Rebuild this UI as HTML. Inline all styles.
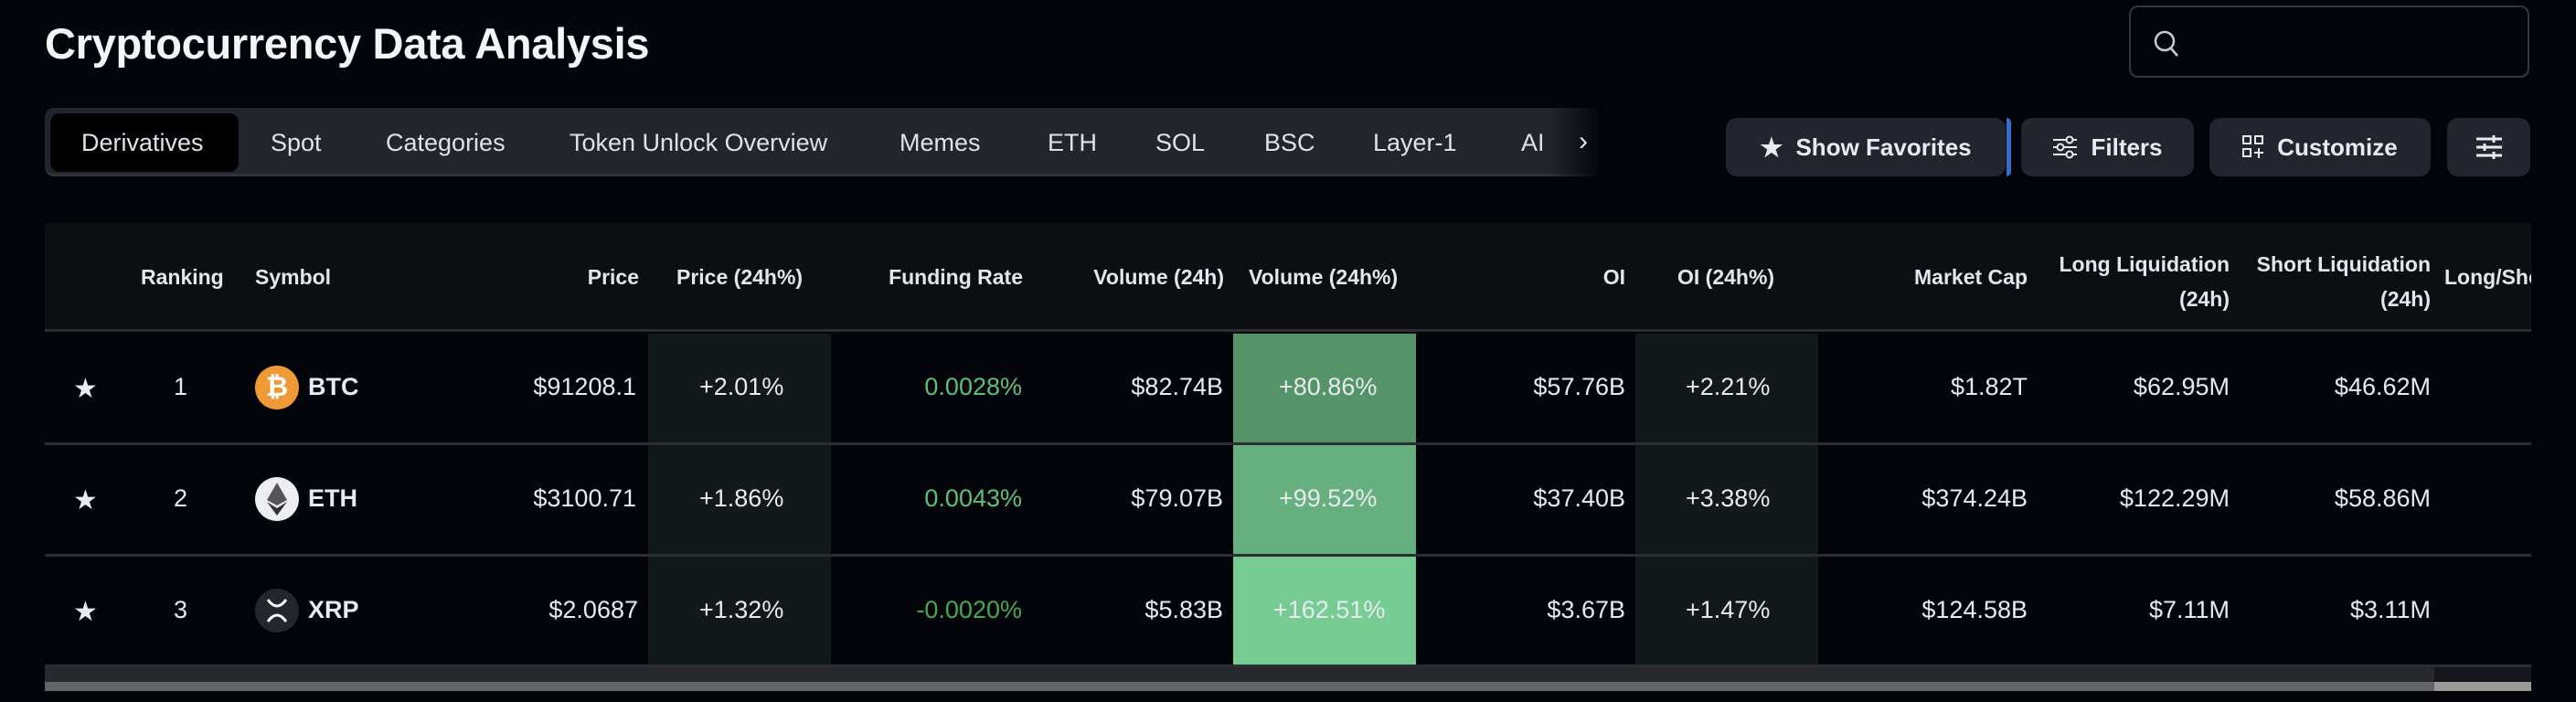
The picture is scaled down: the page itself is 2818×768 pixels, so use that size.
<!DOCTYPE html>
<html><head><meta charset="utf-8"><style>
*{margin:0;padding:0;box-sizing:border-box}
body{width:2818px;height:768px;background:#03040a;overflow:hidden;position:relative;font-family:"Liberation Sans",sans-serif;color:#e8eaef}
.a{position:absolute;white-space:nowrap}
.title{left:49px;top:20px;font-size:47px;font-weight:bold;color:#f4f5f8;letter-spacing:-0.3px}
.search{left:2329px;top:6px;width:438px;height:79px;border:2px solid #34373e;border-radius:10px}
.tabbar{left:49px;top:118px;width:1699px;height:75px;background:#22252c;border-radius:10px 0 0 10px;border-bottom:3px solid #30333a}
.tab{font-size:27px;color:#dfe2e8;top:141px}
.active{left:55px;top:124px;width:206px;height:64px;background:#000;border-radius:10px}
.btn{top:129px;height:64px;background:#22252d;border-radius:12px;font-size:26px;font-weight:bold;color:#e8eaef;display:flex;align-items:center;justify-content:center;gap:14px}
.hdr{left:49px;top:244px;width:2720px;height:119px;background:#0d0e12;border-bottom:3px solid #2b2d33}
.h{font-size:23px;font-weight:bold;color:#e3e6ec;top:290px}
.line{left:49px;width:2720px;height:3px;background:#2b2d33}
.c{font-size:27px;color:#e8eaef}
.g{color:#5cc07a}
.r{text-align:right}
</style></head><body>
<div class="a title">Cryptocurrency Data Analysis</div>
<div class="a search"><svg style="position:absolute;left:24px;top:24px" width="30" height="32" viewBox="0 0 30 32"><circle cx="13" cy="13" r="10" fill="none" stroke="#c9ccd2" stroke-width="2.5"/><line x1="20" y1="21" x2="27" y2="29" stroke="#c9ccd2" stroke-width="2.5"/></svg></div>

<div class="a tabbar"></div>
<div class="a active"></div>
<div class="a" style="left:1694px;top:118px;width:60px;height:75px;background:linear-gradient(90deg,rgba(3,4,10,0),#03040a)"></div>
<div class="a tab" style="left:89px">Derivatives</div>
<div class="a tab" style="left:296px">Spot</div>
<div class="a tab" style="left:422px">Categories</div>
<div class="a tab" style="left:623px">Token Unlock Overview</div>
<div class="a tab" style="left:984px">Memes</div>
<div class="a tab" style="left:1146px">ETH</div>
<div class="a tab" style="left:1264px">SOL</div>
<div class="a tab" style="left:1383px">BSC</div>
<div class="a tab" style="left:1502px">Layer-1</div>
<div class="a tab" style="left:1664px">AI</div>
<div class="a tab" style="left:1727px;font-size:30px;top:138px">›</div>

<div class="a btn" style="left:1888px;width:306px"><span style="font-size:28px">★</span>Show Favorites</div>
<div class="a" style="left:2195px;top:129px;width:5px;height:64px;background:#2f6fd0;border-radius:0 6px 6px 0"></div>
<div class="a btn" style="left:2211px;width:189px"><svg width="28" height="28" viewBox="0 0 28 28" fill="none" stroke="#e8eaef" stroke-width="2"><line x1="1" y1="6" x2="27" y2="6"/><line x1="1" y1="14" x2="27" y2="14"/><line x1="1" y1="22" x2="27" y2="22"/><circle cx="19" cy="6" r="3.5" fill="#22252d"/><circle cx="9" cy="14" r="3.5" fill="#22252d"/><circle cx="19" cy="22" r="3.5" fill="#22252d"/></svg>Filters</div>
<div class="a btn" style="left:2417px;width:242px"><svg width="24" height="26" viewBox="0 0 24 26" fill="none" stroke="#e8eaef" stroke-width="2"><rect x="1" y="1" width="8" height="8"/><rect x="14" y="1" width="8" height="8"/><rect x="1" y="15" width="8" height="8"/><line x1="18" y1="14" x2="18" y2="25"/><line x1="13" y1="19" x2="23" y2="19"/></svg>Customize</div>
<div class="a btn" style="left:2677px;width:91px"><svg width="30" height="26" viewBox="0 0 30 26" stroke="#e8eaef" stroke-width="3"><line x1="1" y1="4" x2="29" y2="4"/><line x1="1" y1="13" x2="29" y2="13"/><line x1="1" y1="22" x2="29" y2="22"/><line x1="20" y1="0" x2="20" y2="8"/><line x1="10" y1="9" x2="10" y2="17"/><line x1="20" y1="18" x2="20" y2="26"/></svg></div>

<div class="a hdr"></div>
<div class="a h" style="left:154px">Ranking</div>
<div class="a h" style="left:279px">Symbol</div>
<div class="a h r" style="right:2119px">Price</div>
<div class="a h" style="left:740px">Price (24h%)</div>
<div class="a h r" style="right:1699px">Funding Rate</div>
<div class="a h r" style="right:1479px">Volume (24h)</div>
<div class="a h" style="left:1366px">Volume (24h%)</div>
<div class="a h r" style="right:1040px">OI</div>
<div class="a h" style="left:1835px">OI (24h%)</div>
<div class="a h r" style="right:600px">Market Cap</div>
<div class="a h r" style="right:379px;top:270px;line-height:38px">Long Liquidation<br>(24h)</div>
<div class="a h r" style="right:159px;top:270px;line-height:38px">Short Liquidation<br>(24h)</div>
<div class="a" style="left:2674px;top:290px;width:95px;overflow:hidden;font-size:23px;font-weight:bold;color:#e3e6ec;white-space:nowrap">Long/Short</div>

<div class="a" style="left:709px;top:365px;width:200px;height:363px;background:#111a18"></div>
<div class="a" style="left:1789px;top:365px;width:200px;height:363px;background:#111a18"></div>
<div class="a" style="left:1349px;top:365px;width:200px;height:120px;background:#559469"></div>
<div class="a" style="left:1349px;top:487px;width:200px;height:120px;background:#66b07f"></div>
<div class="a" style="left:1349px;top:609px;width:200px;height:119px;background:#77cc93"></div>
<div class="a line" style="top:484px"></div>
<div class="a line" style="top:606px"></div>

<div class="a c" style="left:80px;top:408px;font-size:30px">★</div>
<div class="a c" style="left:190px;top:408px">1</div>
<div class="a" style="left:279px;top:400px;width:48px;height:48px;border-radius:50%;background:#f09a35;color:#fff;font-weight:bold;font-size:30px;text-align:center;line-height:48px">₿</div>
<div class="a c" style="left:337px;top:408px;font-weight:bold">BTC</div>
<div class="a c r" style="right:2122px;top:408px">$91208.1</div>
<div class="a c" style="left:765px;top:408px">+2.01%</div>
<div class="a c r g" style="right:1700px;top:408px">0.0028%</div>
<div class="a c r" style="right:1480px;top:408px">$82.74B</div>
<div class="a c" style="left:1399px;top:408px">+80.86%</div>
<div class="a c r" style="right:1040px;top:408px">$57.76B</div>
<div class="a c" style="left:1844px;top:408px">+2.21%</div>
<div class="a c r" style="right:600px;top:408px">$1.82T</div>
<div class="a c r" style="right:379px;top:408px">$62.95M</div>
<div class="a c r" style="right:159px;top:408px">$46.62M</div>

<div class="a c" style="left:80px;top:530px;font-size:30px">★</div>
<div class="a c" style="left:190px;top:530px">2</div>
<div class="a" style="left:279px;top:522px;width:48px;height:48px;border-radius:50%;background:#eceef1"><svg width="48" height="48" viewBox="0 0 48 48"><polygon points="24,6 35,25 24,31 13,25" fill="#555"/><polygon points="24,34 35,27 24,42 13,27" fill="#333"/></svg></div>
<div class="a c" style="left:337px;top:530px;font-weight:bold">ETH</div>
<div class="a c r" style="right:2122px;top:530px">$3100.71</div>
<div class="a c" style="left:765px;top:530px">+1.86%</div>
<div class="a c r g" style="right:1700px;top:530px">0.0043%</div>
<div class="a c r" style="right:1480px;top:530px">$79.07B</div>
<div class="a c" style="left:1399px;top:530px">+99.52%</div>
<div class="a c r" style="right:1040px;top:530px">$37.40B</div>
<div class="a c" style="left:1844px;top:530px">+3.38%</div>
<div class="a c r" style="right:600px;top:530px">$374.24B</div>
<div class="a c r" style="right:379px;top:530px">$122.29M</div>
<div class="a c r" style="right:159px;top:530px">$58.86M</div>

<div class="a c" style="left:80px;top:652px;font-size:30px">★</div>
<div class="a c" style="left:190px;top:652px">3</div>
<div class="a" style="left:279px;top:644px;width:48px;height:48px;border-radius:50%;background:#23272d"><svg width="48" height="48" viewBox="0 0 48 48" fill="none" stroke="#fff" stroke-width="3"><path d="M14 12 Q24 26 34 12"/><path d="M14 36 Q24 22 34 36"/></svg></div>
<div class="a c" style="left:337px;top:652px;font-weight:bold">XRP</div>
<div class="a c r" style="right:2120px;top:652px">$2.0687</div>
<div class="a c" style="left:765px;top:652px">+1.32%</div>
<div class="a c r" style="right:1700px;top:652px;color:#42a94f">-0.0020%</div>
<div class="a c r" style="right:1480px;top:652px">$5.83B</div>
<div class="a c" style="left:1393px;top:652px">+162.51%</div>
<div class="a c r" style="right:1040px;top:652px">$3.67B</div>
<div class="a c" style="left:1844px;top:652px">+1.47%</div>
<div class="a c r" style="right:600px;top:652px">$124.58B</div>
<div class="a c r" style="right:379px;top:652px">$7.11M</div>
<div class="a c r" style="right:159px;top:652px">$3.11M</div>

<div class="a" style="left:49px;top:727px;width:2720px;height:3px;background:#2b2d33"></div>
<div class="a" style="left:49px;top:730px;width:2614px;height:16px;background:#28292c"></div>
<div class="a" style="left:2663px;top:730px;width:106px;height:16px;background:#15161b"></div>
<div class="a" style="left:49px;top:746px;width:2614px;height:10px;background:#646566"></div>
<div class="a" style="left:2663px;top:746px;width:106px;height:10px;background:#9a9a9a"></div>
</body></html>
